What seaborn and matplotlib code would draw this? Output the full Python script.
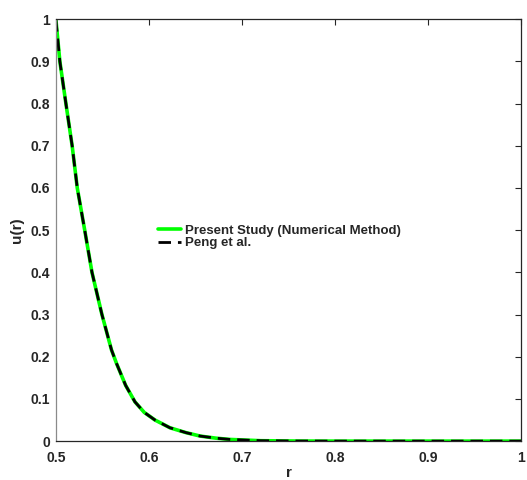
import matplotlib
matplotlib.use("Agg")
import matplotlib.pyplot as plt
import seaborn as sns
import pandas as pd

# Data
r_vals = [0.500, 0.5043, 0.5108, 0.5175, 0.523, 0.531, 0.5388, 0.5495, 0.5598,
          0.5652, 0.575, 0.585, 0.595, 0.6065, 0.6226, 0.640, 0.655, 0.672,
          0.687, 0.720, 0.760, 0.800, 0.900, 1.000]
u_present = [1.0, 0.9, 0.8, 0.7, 0.6, 0.5, 0.4, 0.3, 0.216,
             0.184, 0.132, 0.093, 0.068, 0.050, 0.0316, 0.020, 0.012, 0.007,
             0.004, 0.001, 0.0002, 0.0, 0.0, 0.0]
u_peng = list(u_present)
series_names = ["Present Study (Numerical Method)", "Peng et al."]
x_ticks = [0.5, 0.6, 0.7, 0.8, 0.9, 1.0]
x_tick_labels = ["0.5", "0.6", "0.7", "0.8", "0.9", "1"]
y_ticks = [0, 0.1, 0.2, 0.3, 0.4, 0.5, 0.6, 0.7, 0.8, 0.9, 1.0]
y_tick_labels = ["0", "0.1", "0.2", "0.3", "0.4", "0.5", "0.6", "0.7", "0.8", "0.9", "1"]

sns.set_theme(style="white")
plt.rcParams["font.family"] = ["Liberation Sans", "DejaVu Sans"]
plt.rcParams["font.weight"] = "bold"

df_present = pd.DataFrame({"r": r_vals, "u": u_present})
df_peng = pd.DataFrame({"r": r_vals, "u": u_peng})

fig = plt.figure(figsize=(5.27, 4.80), dpi=100)
ax = fig.add_axes([0.106, 0.081, 0.883, 0.879])

sns.lineplot(data=df_present, x="r", y="u", ax=ax,
             color="#00ff00", linewidth=2.6, label=series_names[0])
sns.lineplot(data=df_peng, x="r", y="u", ax=ax,
             color="black", linewidth=2.0, linestyle=(0, (4.5, 2.5)), label=series_names[1])

ax.set_xlim(0.5, 1.0)
ax.set_ylim(0, 1.0)
ax.set_xticks(x_ticks)
ax.set_xticklabels(x_tick_labels)
ax.set_yticks(y_ticks)
ax.set_yticklabels(y_tick_labels)
ax.tick_params(direction="in", length=4, width=0.8, top=True, right=True,
               labelsize=10, colors="#262626")
ax.tick_params(axis="x", pad=7)
ax.tick_params(axis="y", pad=4)
for lab in ax.get_xticklabels() + ax.get_yticklabels():
    lab.set_fontweight("bold")
for s in ["top", "bottom", "right"]:
    ax.spines[s].set_color("#262626")
    ax.spines[s].set_linewidth(0.9)
ax.spines["left"].set_color("#8a8a8a")
ax.spines["left"].set_linewidth(0.9)

ax.set_xlabel("r", fontsize=11, fontweight="bold", color="#262626", labelpad=1)
ax.set_ylabel("u(r)", fontsize=11, fontweight="bold", color="#262626", labelpad=5)

leg = ax.legend(loc="center left", bbox_to_anchor=(0.219, 0.484), frameon=False,
                prop={"size": 9.5, "weight": "bold"}, handlelength=1.75,
                handletextpad=0.3, labelspacing=0.0, borderpad=0.0,
                borderaxespad=0.0)
for t in leg.get_texts():
    t.set_color("#262626")

fig.savefig("out.png", dpi=100)
